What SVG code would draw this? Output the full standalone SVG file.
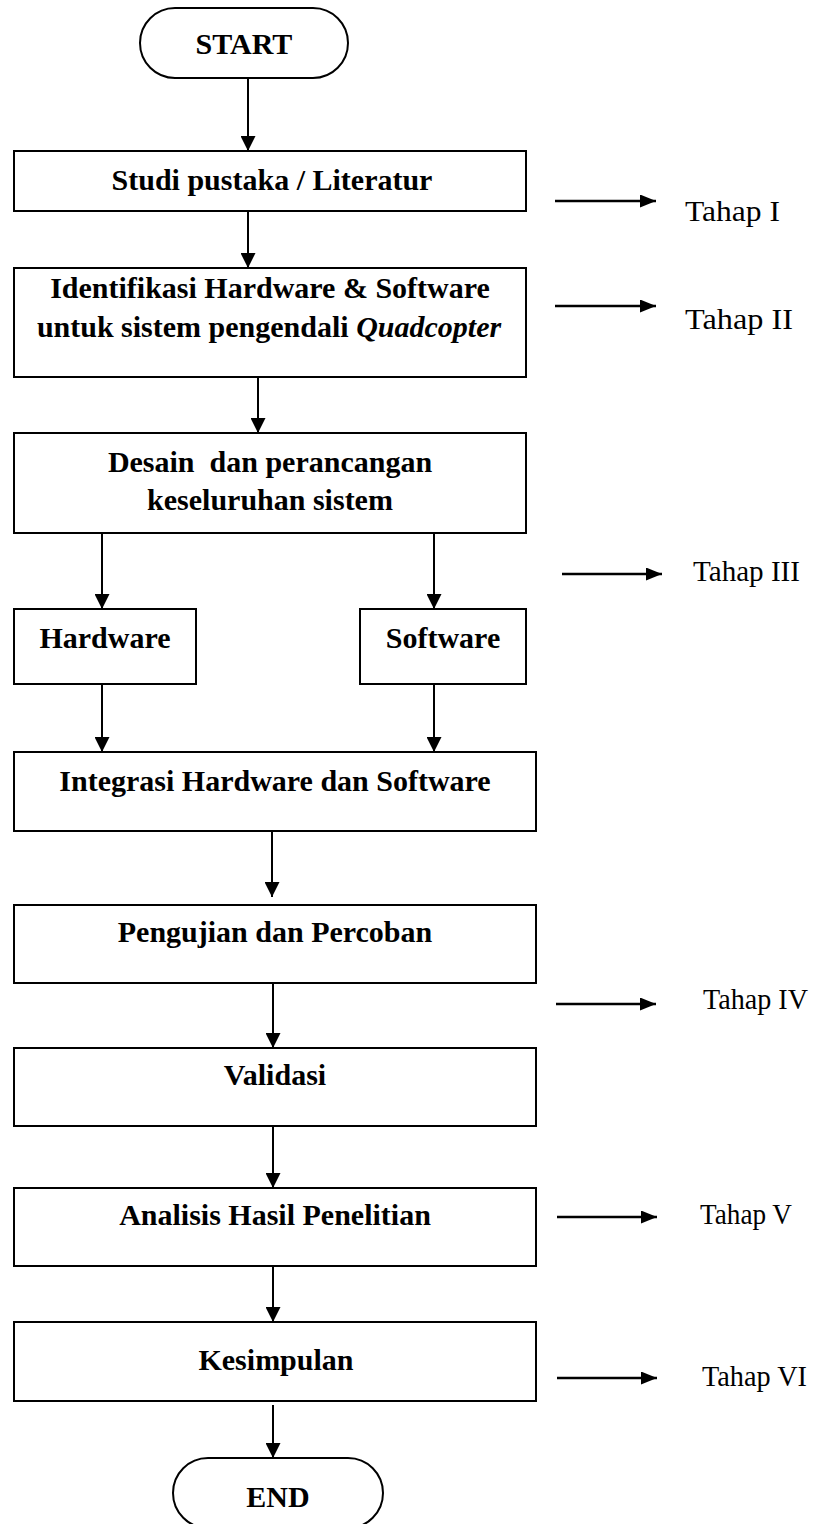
<svg xmlns="http://www.w3.org/2000/svg" width="819" height="1524" viewBox="0 0 819 1524">
  <style>
    .box { fill: #ffffff; stroke: #000000; stroke-width: 2; }
    .lbl { font-family: "Liberation Serif", "Times New Roman", serif; font-weight: bold; font-size: 30px; fill: #000000; text-anchor: middle; }
    .stage { font-family: "Liberation Serif", "Times New Roman", serif; font-size: 28.5px; fill: #000000; }
    .edge { stroke: #000000; stroke-width: 2; fill: none; marker-end: url(#head); }
    .side { stroke: #000000; stroke-width: 2.5; fill: none; marker-end: url(#headSide); }
  </style>
  <defs>
    <marker id="head" markerUnits="userSpaceOnUse" markerWidth="15" markerHeight="15" refX="15" refY="7.5" orient="auto">
      <path d="M0,0 L15,7.5 L0,15 z" fill="#000000"/>
    </marker>
    <marker id="headSide" markerUnits="userSpaceOnUse" markerWidth="16" markerHeight="13" refX="16" refY="6.5" orient="auto">
      <path d="M0,0 L16,6.5 L0,13 z" fill="#000000"/>
    </marker>
  </defs>
  <rect x="0" y="0" width="819" height="1524" fill="#ffffff"/>

  <!-- flow connectors -->
  <g id="connectors">
    <line class="edge" x1="248" y1="78" x2="248" y2="151"/>
    <line class="edge" x1="248" y1="211" x2="248" y2="268"/>
    <line class="edge" x1="258" y1="377" x2="258" y2="433"/>
    <line class="edge" x1="102" y1="533" x2="102" y2="609"/>
    <line class="edge" x1="434" y1="533" x2="434" y2="609"/>
    <line class="edge" x1="102" y1="684" x2="102" y2="752"/>
    <line class="edge" x1="434" y1="684" x2="434" y2="752"/>
    <line class="edge" x1="272" y1="831" x2="272" y2="897"/>
    <line class="edge" x1="273" y1="983" x2="273" y2="1048"/>
    <line class="edge" x1="273" y1="1126" x2="273" y2="1188"/>
    <line class="edge" x1="273" y1="1261" x2="273" y2="1322"/>
    <line class="edge" x1="273" y1="1405" x2="273" y2="1458"/>
    <!-- stage pointers -->
    <line class="side" x1="555" y1="201" x2="656" y2="201"/>
    <line class="side" x1="555" y1="306" x2="656" y2="306"/>
    <line class="side" x1="562" y1="574" x2="662" y2="574"/>
    <line class="side" x1="556" y1="1004" x2="656" y2="1004"/>
    <line class="side" x1="557" y1="1217" x2="657" y2="1217"/>
    <line class="side" x1="557" y1="1378" x2="657" y2="1378"/>
  </g>

  <g id="start">
    <rect class="box" x="140" y="8" width="208" height="70" rx="35" ry="35"/>
    <text class="lbl" x="244" y="54">START</text>
  </g>

  <g id="studi">
    <rect class="box" x="14" y="151" width="512" height="60"/>
    <text class="lbl" x="272" y="190">Studi pustaka / Literatur</text>
  </g>

  <g id="identifikasi">
    <rect class="box" x="14" y="268" width="512" height="109"/>
    <text class="lbl" x="270" y="298">Identifikasi Hardware &amp; Software</text>
    <text class="lbl" x="269" y="337">untuk sistem pengendali <tspan font-style="italic">Quadcopter</tspan></text>
  </g>

  <g id="desain">
    <rect class="box" x="14" y="433" width="512" height="100"/>
    <text class="lbl" x="270" y="472" style="white-space:pre">Desain  dan perancangan</text>
    <text class="lbl" x="270" y="510">keseluruhan sistem</text>
  </g>

  <g id="hardware">
    <rect class="box" x="14" y="609" width="182" height="75"/>
    <text class="lbl" x="105" y="648">Hardware</text>
  </g>

  <g id="software">
    <rect class="box" x="360" y="609" width="166" height="75"/>
    <text class="lbl" x="443" y="648">Software</text>
  </g>

  <g id="integrasi">
    <rect class="box" x="14" y="752" width="522" height="79"/>
    <text class="lbl" x="275" y="791">Integrasi Hardware dan Software</text>
  </g>

  <g id="pengujian">
    <rect class="box" x="14" y="905" width="522" height="78"/>
    <text class="lbl" x="275" y="942">Pengujian dan Percoban</text>
  </g>

  <g id="validasi">
    <rect class="box" x="14" y="1048" width="522" height="78"/>
    <text class="lbl" x="275" y="1085">Validasi</text>
  </g>

  <g id="analisis">
    <rect class="box" x="14" y="1188" width="522" height="78"/>
    <text class="lbl" x="275" y="1225">Analisis Hasil Penelitian</text>
  </g>

  <g id="kesimpulan">
    <rect class="box" x="14" y="1322" width="522" height="79"/>
    <text class="lbl" x="276" y="1370">Kesimpulan</text>
  </g>

  <g id="end">
    <rect class="box" x="173" y="1458" width="210" height="70" rx="35" ry="35"/>
    <text class="lbl" x="278" y="1507">END</text>
  </g>

  <g id="stages">
    <text class="stage" x="685" y="221" textLength="95" lengthAdjust="spacingAndGlyphs">Tahap I</text>
    <text class="stage" x="685" y="329" textLength="108" lengthAdjust="spacingAndGlyphs">Tahap II</text>
    <text class="stage" x="693" y="581" textLength="107" lengthAdjust="spacingAndGlyphs">Tahap III</text>
    <text class="stage" x="703" y="1009" textLength="105" lengthAdjust="spacingAndGlyphs">Tahap IV</text>
    <text class="stage" x="700" y="1224" textLength="92" lengthAdjust="spacingAndGlyphs">Tahap V</text>
    <text class="stage" x="702" y="1386" textLength="105" lengthAdjust="spacingAndGlyphs">Tahap VI</text>
  </g>
</svg>
